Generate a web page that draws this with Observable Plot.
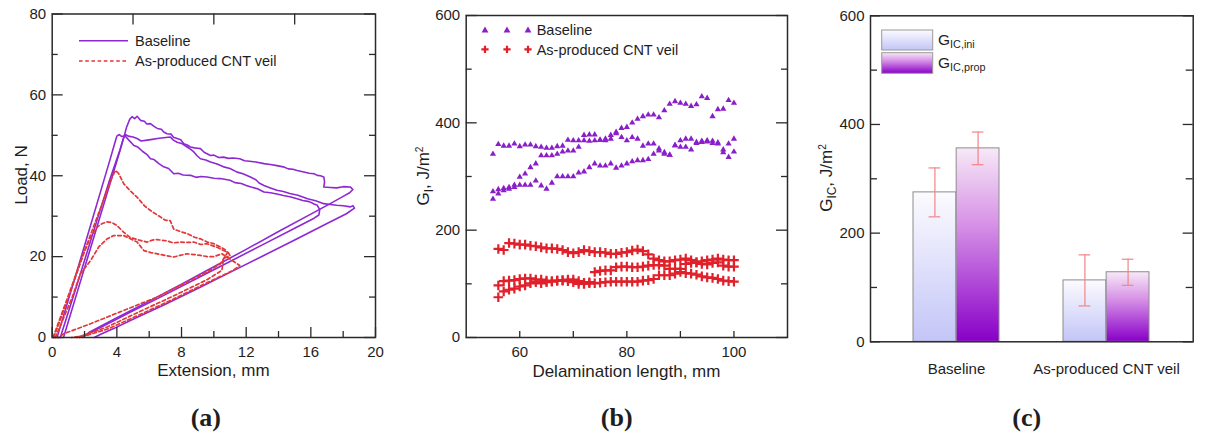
<!DOCTYPE html>
<html><head><meta charset="utf-8">
<script src="https://cdn.jsdelivr.net/npm/d3@7"></script>
<script src="https://cdn.jsdelivr.net/npm/@observablehq/plot@0.6"></script>
<style>
html,body{margin:0;padding:0;background:#fff;}
#root{position:relative;width:1212px;height:437px;overflow:hidden;font-family:"Liberation Sans",Arial,sans-serif;color:#1e1e1e;background:#fff;}
.ytitle{position:absolute;transform:translate(-50%,-50%) rotate(-90deg);white-space:nowrap;font-size:17px;}
.xtitle{position:absolute;transform:translate(-50%,-50%);white-space:nowrap;font-size:17px;}
.plabel{position:absolute;transform:translate(-50%,-50%);font-family:"Liberation Serif","Times New Roman",serif;font-weight:bold;font-size:26px;}
.leg{position:absolute;font-size:14.5px;white-space:nowrap;transform:translateY(-50%);}
sub{font-size:0.7em;vertical-align:-0.3em;line-height:0;}
sup{font-size:0.6em;vertical-align:0.55em;line-height:0;}
</style></head><body><div id="root"></div>
<script>
// ---------------- Panel (a): load vs extension ----------------
const baseline1 = [[0.7,0],[1.5,10.6],[2.5,23.8],[3.5,37],[4.2,46.3],[4.45,49.8],[4.6,52],[4.8,54],[4.94,54.6],[5.1,54.1],[5.25,54.7],[5.46,53.7],[5.7,53.5],[5.85,52.8],[6.08,52.9],[6.3,52.2],[6.5,51.7],[6.75,51.5],[6.9,50.8],[7.1,50.4],[7.35,50.3],[7.5,49.5],[7.73,49.2],[7.95,48.9],[8.14,47.9],[8.35,47.6],[8.55,47.1],[8.8,46.9],[9.0,46.8],[9.17,46.7],[9.4,45.8],[9.79,45.0],[10.0,45.1],[10.3,44.5],[10.6,44.6],[10.9,44.3],[11.2,44.4],[11.6,44.2],[11.9,43.7],[12.2,43.6],[12.6,43.4],[13.1,43.0],[13.5,42.8],[13.9,42.5],[14.3,42.2],[14.6,41.7],[14.9,41.6],[15.15,41.3],[15.5,41.0],[15.9,40.6],[16.2,40.5],[16.4,40.1],[16.6,40.0],[16.8,39.7],[16.85,38.5],[16.8,37.2],[17.2,37.1],[17.6,37.0],[18.0,37.3],[18.45,37.2],[18.6,36.6],[18.4,35.8],[18.0,34.9],[17.2,33.1],[16,30.5],[14,26.2],[12,21.8],[10,17.5],[8,13.2],[6,9.0],[4,4.9],[3,2.8],[2.3,1.3],[1.9,0]];
const baseline2 = [[0.3,0],[1.0,9.3],[2.0,22.7],[3.0,36.2],[3.6,44.3],[3.85,47.8],[4.0,49.8],[4.15,50.2],[4.3,49.7],[4.5,49.9],[4.7,49.0],[5.05,47.5],[5.3,47.1],[5.6,46.0],[5.85,45.3],[6.08,44.2],[6.3,44.0],[6.6,43.0],[6.9,42.2],[7.2,41.8],[7.52,40.5],[7.8,40.6],[8.1,40.2],[8.55,40.1],[8.9,39.6],[9.2,39.8],[9.58,39.7],[10.0,39.4],[10.4,39.3],[11.0,38.9],[11.3,38.3],[11.7,38.1],[12.0,37.6],[12.3,37.2],[12.7,36.8],[13.1,36.0],[13.5,35.8],[13.9,35.5],[14.3,35.1],[14.7,34.8],[15.15,34.3],[15.5,33.9],[15.9,33.6],[16.2,33.0],[16.4,32.7],[16.55,31.6],[16.5,30.3],[16.2,29.5],[15,27.0],[13,22.9],[11,18.8],[9,14.7],[7,10.6],[5,6.6],[3.5,3.5],[2.5,1.5],[2.0,0.5],[1.7,0]];
const baseline3 = [[0.5,0],[1.5,12.6],[2.5,25.5],[3.5,38.3],[4.2,46.5],[4.4,49.2],[4.53,50.2],[4.7,49.8],[5.0,49.6],[5.25,49.2],[5.5,48.6],[5.87,48.8],[6.2,49.0],[6.5,49.2],[6.9,49.4],[7.3,49.6],[7.5,48.8],[7.73,48.3],[8.0,48.0],[8.35,47.1],[8.55,46.6],[8.76,45.9],[8.95,45.0],[9.17,44.2],[9.5,43.9],[9.79,43.4],[10.2,42.9],[10.6,42.2],[11.0,41.8],[11.44,40.9],[11.8,40.5],[12.26,39.7],[12.6,39.0],[12.8,38.2],[13.1,37.6],[13.5,37.0],[13.9,36.4],[14.3,36.1],[14.7,35.6],[15.2,35.2],[15.8,34.3],[16.3,33.8],[16.8,33.1],[17.2,32.9],[17.6,32.7],[18.0,32.6],[18.45,32.3],[18.6,32.6],[18.7,32.0],[18.2,30.6],[17,28.2],[15,24.1],[13,20.1],[11,16.1],[9,12.1],[7,8.2],[5,4.5],[3.8,2.2],[3.0,0.8],[2.6,0]];
const cntVeil1 = [[0.05,0],[0.5,4.9],[1.0,10.4],[1.5,15.9],[2.0,21.4],[2.5,26.8],[3.0,32.1],[3.4,36.4],[3.7,39.6],[3.91,41.3],[4.1,40.6],[4.43,38.0],[4.8,36.4],[5.25,34.7],[5.7,32.6],[6.08,31.4],[6.5,30.3],[7.0,29.0],[7.3,28.9],[7.52,26.8],[8.0,26.1],[8.35,25.7],[8.8,24.8],[9.17,24.4],[9.6,23.6],[10.0,23.2],[10.4,22.4],[10.7,21.7],[10.85,21.0],[10.4,18.2],[9.58,16.2],[8.14,13.3],[6.5,10.0],[4.43,6.7],[2.37,3.4],[0.7,0.9],[0.4,0]];
const cntVeil2 = [[0.1,0],[0.6,5.5],[1.2,12.2],[1.6,16.8],[1.95,20.8],[2.37,24.8],[2.78,27.3],[3.1,28.2],[3.4,28.6],[3.7,28.4],[4.0,27.7],[4.43,26.0],[4.84,24.7],[5.46,24.0],[5.87,23.6],[6.2,24.1],[6.5,24.2],[7.1,23.9],[7.5,23.4],[7.93,23.6],[8.4,23.5],[8.76,23.6],[9.2,23.0],[9.58,23.2],[10.2,22.3],[10.6,21.5],[10.9,21.0],[11.0,20.2],[10.6,19.6],[10.5,16.6],[9.58,14.3],[7.52,10.3],[5.46,6.5],[3.4,2.6],[2.2,0.9],[1.5,0]];
const cntVeil3 = [[0.2,0],[0.7,4.8],[1.24,10.0],[1.75,15.8],[2.37,19.0],[2.88,22.4],[3.4,24.4],[3.81,25.2],[4.43,25.2],[4.84,24.4],[5.25,23.6],[5.67,21.5],[6.1,21.0],[6.5,20.7],[7.0,20.3],[7.52,19.9],[7.9,20.3],[8.35,20.7],[8.8,20.5],[9.17,20.3],[9.6,20.0],[10.0,20.0],[10.5,20.7],[11.0,19.4],[11.6,17.8],[11.2,16.6],[9.6,13.6],[7.5,9.5],[5.5,5.8],[3.5,2.2],[2.2,0.6],[1.2,0]];
const aXTicks = [0,4,8,12,16,20];
const aXMinor = [2,6,10,14,18];
const aTopTicks = [5,10,15];
const aYTicks = [0,20,40,60,80];
const aYMinor = [10,30,50,70];

// ---------------- Panel (b): G_I vs delamination length ----------------
const lengthBaseline = [55,56,57,58,59,60,61,62,63,64,65,66,67,68,69,70,71,72,73,74,75,76,77,78,79,80,81,82,83,84,85,86,87,88,89,90,91,92,93,94,95,96,97,98,99,100];
const gBaseline1 = [342,360,357,357,361,356,359,359,356,355,353,353,356,357,368,367,367,377,378,378,368,370,377,383,390,392,400,407,412,415,415,410,423,435,440,437,435,431,434,449,446,412,425,426,442,437];
const gBaseline2 = [272,276,278,280,284,299,305,317,324,339,339,339,342,346,348,348,355,367,366,367,368,367,370,380,373,367,373,370,357,361,361,352,345,340,358,367,370,370,364,364,365,362,361,350,336,346];
const gBaseline3 = [258,268,274,277,280,284,284,284,292,283,277,288,300,300,300,300,307,309,317,324,320,320,324,316,320,324,328,330,330,332,342,348,342,340,358,355,355,350,362,366,367,366,363,345,361,370];
const lengthCnt = [56,57,58,59,60,61,62,63,64,65,66,67,68,69,70,71,72,73,74,75,76,77,78,79,80,81,82,83,84,85,86,87,88,89,90,91,92,93,94,95,96,97,98,99,100];
const gCnt1 = [165,163,176,175,173,173,171,170,168,166,166,165,163,159,157,159,163,161,159,159,158,156,156,158,159,162,164,161,155,147,144,142,142,144,145,147,144,140,142,144,145,147,145,144,144];
const gCnt2 = [97,105,106,107,109,110,110,108,108,106,105,106,107,108,108,105,102,103,122,124,125,125,131,132,132,131,131,132,134,135,135,134,128,128,128,137,139,140,137,136,139,140,134,132,132];
const gCnt3 = [75,86,89,91,95,97,101,103,101,103,104,106,106,105,103,100,100,101,101,102,103,104,104,104,104,104,104,106,107,109,116,116,116,119,122,120,119,117,114,112,111,109,106,105,104];
const bXTicks = [60,80,100];
const bXMinor = [70,90];
const bYTicks = [0,200,400,600];
const bYMinor = [100,300,500];

// ---------------- Panel (c): G_IC bars ----------------
const categories = ["Baseline","As-produced CNT veil"];
const gIcIni = [275,113];
const gIcIniErr = [45,47];
const gIcProp = [356,128];
const gIcPropErr = [30,24];
const cYTicks = [0,200,400,600];
const cYMinor = [100,300,500];

// ---------------- styling ----------------
const FONT = '"Liberation Sans", Arial, sans-serif';
const PURPLE = "#8e28d2";
const TRI = "#8a1ec9";
const RED_DASH = "#e2383a";
const RED = "#e0202a";
const ERR = "#f08585";
const FRAME = "#2a2a2a";
const root = document.getElementById("root");

function mount(node, left, top, w) {
  const div = document.createElement("div");
  div.style.position = "absolute"; div.style.left = left + "px"; div.style.top = top + "px"; div.style.width = w + "px";
  div.appendChild(node); root.appendChild(div);
}
function html(cls, text, x, y) {
  const d = document.createElement("div");
  d.className = cls; d.innerHTML = text; d.style.left = x + "px"; d.style.top = y + "px";
  root.appendChild(d);
  return d;
}
const baseStyle = {fontFamily: FONT, fontSize: "15px", color: "#1e1e1e", background: "transparent", overflow: "visible", maxWidth: "none"};

// inward tick helper (lengths in pixels converted to data units)
function inwardTicks(xd, yd, fw, fh, spec) {
  const kx = (xd[1]-xd[0]) / fw, ky = (yd[1]-yd[0]) / fh;
  const M = 11, m = 6, marks = [];
  const st = {stroke: FRAME, strokeWidth: 1.3};
  if (spec.bottom) marks.push(Plot.ruleX(spec.bottom, {x: d => d, y1: yd[0], y2: yd[0] + (spec.bottomLen||M)*ky, ...st}));
  if (spec.bottomMinor) marks.push(Plot.ruleX(spec.bottomMinor, {x: d => d, y1: yd[0], y2: yd[0] + (spec.bottomMinorLen||m)*ky, ...st}));
  if (spec.top) marks.push(Plot.ruleX(spec.top, {x: d => d, y1: yd[1], y2: yd[1] - M*ky, ...st}));
  if (spec.y) {
    marks.push(Plot.ruleY(spec.y, {y: d => d, x1: xd[0], x2: xd[0] + M*kx, ...st}));
    marks.push(Plot.ruleY(spec.y, {y: d => d, x1: xd[1], x2: xd[1] - M*kx, ...st}));
  }
  if (spec.yMinor) {
    marks.push(Plot.ruleY(spec.yMinor, {y: d => d, x1: xd[0], x2: xd[0] + m*kx, ...st}));
    marks.push(Plot.ruleY(spec.yMinor, {y: d => d, x1: xd[1], x2: xd[1] - m*kx, ...st}));
  }
  return marks;
}

// ---- Panel (a) ----
{
  const xd = [0,20], yd = [0,80];
  const mL = 51.7, mT = 13.5, W = 400, H = 380, mR = W - 375, mB = H - 337;
  const xy = {x: d => d[0], y: d => d[1]};
  const dash = {stroke: RED_DASH, strokeWidth: 1.7, strokeDasharray: "3.6,2.6"};
  const solid = {stroke: PURPLE, strokeWidth: 1.6};
  const plot = Plot.plot({
    width: W, height: H, marginLeft: mL, marginTop: mT, marginRight: mR, marginBottom: mB,
    x: {domain: xd}, y: {domain: yd}, style: baseStyle,
    marks: [
      Plot.line(baseline1, {...xy, ...solid}),
      Plot.line(baseline2, {...xy, ...solid}),
      Plot.line(baseline3, {...xy, ...solid}),
      Plot.line(cntVeil1, {...xy, ...dash}),
      Plot.line(cntVeil2, {...xy, ...dash}),
      Plot.line(cntVeil3, {...xy, ...dash}),
      ...inwardTicks(xd, yd, W - mL - mR, H - mT - mB, {bottom: aXTicks, bottomLen: 10, bottomMinor: aXMinor, top: aTopTicks, y: aYTicks, yMinor: aYMinor}),
      Plot.frame({stroke: FRAME, strokeWidth: 1.5}),
      Plot.axisX({ticks: aXTicks, tickSize: 0, tickPadding: 9, label: null, tickFormat: d => d}),
      Plot.axisY({ticks: aYTicks, tickSize: 0, tickPadding: 6, label: null, tickFormat: d => d})
    ]
  });
  mount(plot, 0, 0, W);
}

// ---- Panel (b) ----
{
  const xd = [50,110], yd = [0,600];
  const left = 400, mL = 465.7 - left, mT = 15, W = 410, H = 380, mR = W - (787 - left), mB = H - 337;
  const base = [
    lengthBaseline.map((x,i) => ({x, g: gBaseline1[i]})),
    lengthBaseline.map((x,i) => ({x, g: gBaseline2[i]})),
    lengthBaseline.map((x,i) => ({x, g: gBaseline3[i]}))
  ];
  const cnt = [
    lengthCnt.map((x,i) => ({x, g: gCnt1[i]})),
    lengthCnt.map((x,i) => ({x, g: gCnt2[i]})),
    lengthCnt.map((x,i) => ({x, g: gCnt3[i]}))
  ];
  const plot = Plot.plot({
    width: W, height: H, marginLeft: mL, marginTop: mT, marginRight: mR, marginBottom: mB,
    x: {domain: xd}, y: {domain: yd}, style: baseStyle,
    marks: [
      ...base.map(s => Plot.dot(s, {x: "x", y: "g", symbol: "triangle", fill: TRI, r: 2.3, stroke: "none"})),
      ...cnt.map(s => Plot.dot(s, {x: "x", y: "g", symbol: "plus", stroke: RED, strokeWidth: 2.2, r: 3.2})),
      ...inwardTicks(xd, yd, W - mL - mR, H - mT - mB, {bottom: bXTicks, bottomLen: 6, bottomMinor: bXMinor, y: bYTicks, yMinor: bYMinor}),
      Plot.frame({stroke: FRAME, strokeWidth: 1.5}),
      Plot.axisX({ticks: bXTicks, tickSize: 0, tickPadding: 9, label: null, tickFormat: d => d}),
      Plot.axisY({ticks: bYTicks, tickSize: 0, tickPadding: 6, label: null, tickFormat: d => d})
    ]
  });
  mount(plot, left, 0, W);
}

// ---- Panel (c) ----
{
  const yd = [0,600];
  const left = 800, mL = 870 - left, mT = 15.3, W = 412, H = 390, mR = W - (1192.7 - left), mB = H - 341.3;
  const pi = 0.425, po = 0.287;
  const innerW = W - mL - mR;
  const step = innerW / (categories.length - pi + 2*po);
  const bw = step * (1 - pi), half = bw / 2, cap = 6;
  const table = categories.map((cat,i) => ({cat, ini: gIcIni[i], iniErr: gIcIniErr[i], prop: gIcProp[i], propErr: gIcPropErr[i]}));
  const st = {stroke: FRAME, strokeWidth: 1.3};
  const plot = Plot.plot({
    width: W, height: H, marginLeft: mL, marginTop: mT, marginRight: mR, marginBottom: mB,
    x: {type: "band", domain: categories, paddingInner: pi, paddingOuter: po}, y: {domain: yd}, style: baseStyle,
    marks: [
      Plot.barY(table, {x: "cat", y: "ini", fill: "url(#gradIni)", stroke: "#8c8c8c", strokeWidth: 1, insetRight: half}),
      Plot.barY(table, {x: "cat", y: "prop", fill: "url(#gradProp)", stroke: "#8c8c8c", strokeWidth: 1, insetLeft: half}),
      Plot.ruleX(table, {x: "cat", y1: d => d.ini - d.iniErr, y2: d => d.ini + d.iniErr, dx: -half/2, stroke: ERR, strokeWidth: 1.2}),
      Plot.ruleX(table, {x: "cat", y1: d => d.prop - d.propErr, y2: d => d.prop + d.propErr, dx: half/2, stroke: ERR, strokeWidth: 1.2}),
      Plot.tickY(table, {x: "cat", y: d => d.ini + d.iniErr, insetLeft: half/2 - cap, insetRight: bw - half/2 - cap, stroke: ERR, strokeWidth: 1.2}),
      Plot.tickY(table, {x: "cat", y: d => d.ini - d.iniErr, insetLeft: half/2 - cap, insetRight: bw - half/2 - cap, stroke: ERR, strokeWidth: 1.2}),
      Plot.tickY(table, {x: "cat", y: d => d.prop + d.propErr, insetLeft: half + half/2 - cap, insetRight: half/2 - cap, stroke: ERR, strokeWidth: 1.2}),
      Plot.tickY(table, {x: "cat", y: d => d.prop - d.propErr, insetLeft: half + half/2 - cap, insetRight: half/2 - cap, stroke: ERR, strokeWidth: 1.2}),
      Plot.tickY(cYTicks, {y: d => d, insetRight: innerW - 10, ...st}),
      Plot.tickY(cYTicks, {y: d => d, insetLeft: innerW - 10, ...st}),
      Plot.tickY(cYMinor, {y: d => d, insetRight: innerW - 7, ...st}),
      Plot.tickY(cYMinor, {y: d => d, insetLeft: innerW - 7, ...st}),
      Plot.frame({stroke: FRAME, strokeWidth: 1.5}),
      Plot.axisX({tickSize: 0, tickPadding: 22, label: null}),
      Plot.axisY({ticks: cYTicks, tickSize: 0, tickPadding: 6, label: null, tickFormat: d => d})
    ]
  });
  // gradients for bars
  const ns = "http://www.w3.org/2000/svg";
  const defs = document.createElementNS(ns, "defs");
  [["gradIni", [["0%","#fcfbff"],["100%","#c3c5f7"]]],
   ["gradProp", [["0%","#f7e9f7"],["40%","#d690e6"],["100%","#8800c8"]]]].forEach(([id, stops]) => {
    const g = document.createElementNS(ns, "linearGradient");
    g.setAttribute("id", id); g.setAttribute("x1","0"); g.setAttribute("y1","0"); g.setAttribute("x2","0"); g.setAttribute("y2","1");
    stops.forEach(([o,c]) => { const s = document.createElementNS(ns, "stop"); s.setAttribute("offset", o); s.setAttribute("stop-color", c); g.appendChild(s); });
    defs.appendChild(g);
  });
  plot.insertBefore(defs, plot.firstChild);
  mount(plot, left, 0, W);
}

// ---- Titles, legends, panel labels ----
html("ytitle", "Load, N", 22, 175);
html("xtitle", "Extension, mm", 213.4, 371);
html("ytitle", "G<sub>I</sub>, J/m<sup>2</sup>", 424, 176);
html("xtitle", "Delamination length, mm", 626.4, 372);
html("ytitle", "G<sub>IC</sub>, J/m<sup>2</sup>", 827, 178);
html("plabel", "(a)", 205.8, 418);
html("plabel", "(b)", 616.7, 418);
html("plabel", "(c)", 1026.7, 418);

// legend (a)
{
  const d = document.createElement("div");
  d.style.position = "absolute"; d.style.left = "76px"; d.style.top = "30px";
  d.innerHTML = `<svg width="56" height="42"><line x1="3" x2="52" y1="10.7" y2="10.7" stroke="${PURPLE}" stroke-width="1.6"/><line x1="3" x2="52" y1="31" y2="31" stroke="${RED_DASH}" stroke-width="1.7" stroke-dasharray="3.6,2.6"/></svg>`;
  root.appendChild(d);
  html("leg", "Baseline", 135, 40.7);
  html("leg", "As-produced CNT veil", 135, 61);
}
// legend (b)
{
  const tri = cx => `<path d="M${cx},${10-3.5}L${cx+3.4},${10+2.6}L${cx-3.4},${10+2.6}Z" fill="${TRI}"/>`;
  const plus = cx => `<path d="M${cx-3.6},29.3H${cx+3.6}M${cx},25.7V32.9" stroke="${RED}" stroke-width="2.2"/>`;
  const d = document.createElement("div");
  d.style.position = "absolute"; d.style.left = "478px"; d.style.top = "20px";
  d.innerHTML = `<svg width="58" height="42">${[7,29,50].map(tri).join("")}${[7,29,50].map(plus).join("")}</svg>`;
  root.appendChild(d);
  html("leg", "Baseline", 536.7, 30);
  html("leg", "As-produced CNT veil", 536.7, 49.5);
}
// legend (c)
{
  const d = document.createElement("div");
  d.style.position = "absolute"; d.style.left = "880px"; d.style.top = "28px";
  d.innerHTML = `<svg width="56" height="48"><rect x="1.7" y="2" width="51" height="20" fill="url(#gradIni)" stroke="#9a9a9a"/><rect x="1.7" y="24.7" width="51" height="20.6" fill="url(#gradProp)" stroke="#9a9a9a"/></svg>`;
  root.appendChild(d);
  html("leg", "G<sub>IC,ini</sub>", 938, 40).style.fontSize = "15.5px";
  html("leg", "G<sub>IC,prop</sub>", 938, 63).style.fontSize = "15.5px";
}
</script></body></html>
